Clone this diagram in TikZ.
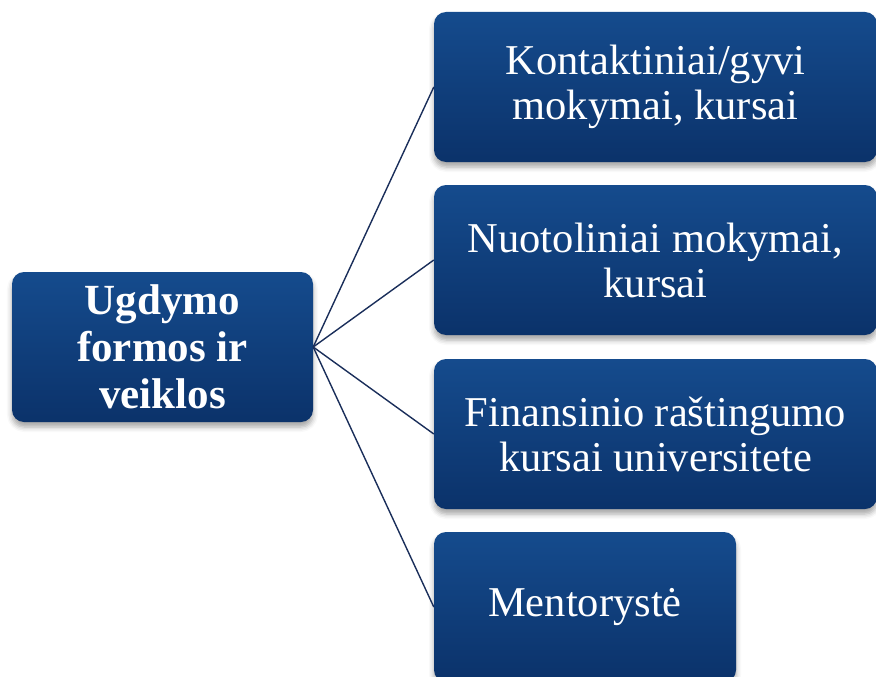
\documentclass[tikz,border=0pt]{standalone}
\usepackage{fontspec}
\setmainfont{Liberation Serif}
\usetikzlibrary{shadows.blur}
\definecolor{boxtop}{RGB}{21,75,141}
\definecolor{boxbot}{RGB}{11,50,106}
\definecolor{linkcol}{RGB}{26,46,90}
\tikzset{
  box/.style={rectangle, rounded corners=12pt, top color=boxtop, bottom color=boxbot,
    draw=none, text=white, align=center, inner sep=0pt,
    blur shadow={shadow xshift=0pt, shadow yshift=-5pt, shadow blur radius=5pt, shadow opacity=35},
    font=\fontsize{42.5}{45}\selectfont},
  link/.style={draw=linkcol, line width=1.4pt}
}
\begin{document}
\begin{tikzpicture}[x=1pt,y=-1pt]
\useasboundingbox (0,0) rectangle (876,677);
\clip (0,0) rectangle (876,677);
\node[box, minimum width=301pt, minimum height=150pt, font=\fontsize{43}{47}\selectfont\bfseries] (root) at (162.5,347) {Ugdymo\\formos ir\\veiklos};
\node[box, minimum width=443pt, minimum height=150pt] (a) at (655.5,87) {Kontaktiniai/gyvi\\mokymai, kursai};
\node[box, minimum width=443pt, minimum height=150pt] (b) at (655.5,260) {Nuotoliniai mokymai,\\kursai};
\node[box, minimum width=443pt, minimum height=150pt] (c) at (655.5,434) {Finansinio raštingumo\\kursai universitete};
\node[box, minimum width=302pt, minimum height=150pt] (d) at (585,607) {Mentorystė};
\draw[link] (root.east) -- (a.west);
\draw[link] (root.east) -- (b.west);
\draw[link] (root.east) -- (c.west);
\draw[link] (root.east) -- (d.west);
\end{tikzpicture}
\end{document}
